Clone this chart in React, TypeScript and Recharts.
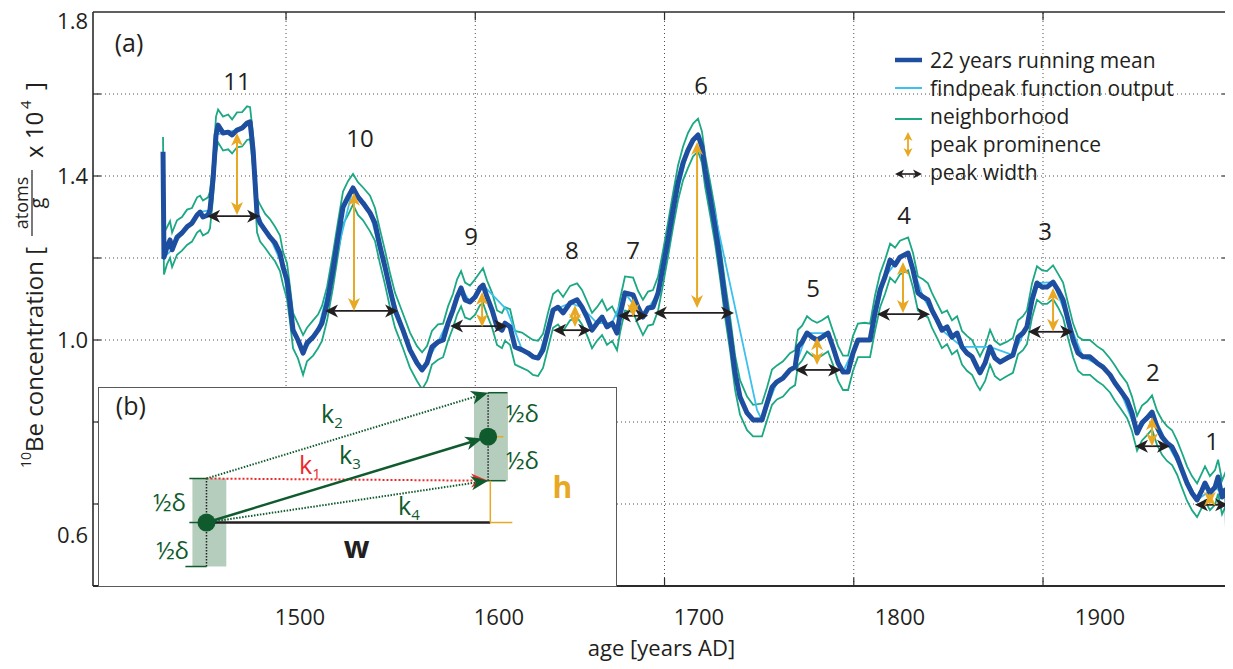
import React from 'react';
import {
  LineChart, Line, XAxis, YAxis, ReferenceLine, ReferenceDot, ReferenceArea, Legend,
} from 'recharts';

const FONT = '"Open Sans", "Noto Sans", sans-serif';
const INK = '#231f20';
const C_MEAN = '#1e4e9f';
const C_PEAK = '#3cc0ef';
const C_NEIGH = '#1ba883';
const C_PROM = '#e8a823';
const C_DKGREEN = '#0f5b2d';
const C_RED = '#ec2a2c';
const C_BOX = '#b5cdbd';
const C_AXIS = '#2b2b2b';
const C_GRID = '#4d4d4d';

// ---- 22 years running mean ----
const years = [
  1435.0, 1435.5, 1437.1, 1438.7, 1439.8, 1442.4, 1445.0, 1447.7, 1450.3, 1453.0,
  1454.6, 1456.1, 1458.8, 1459.8, 1461.4, 1463.0, 1464.1, 1466.7, 1469.4, 1471.5,
  1474.1, 1476.8, 1479.4, 1481.0, 1482.6, 1484.7, 1486.3, 1488.9, 1491.5, 1494.2,
  1496.8, 1498.4, 1500.5, 1502.1, 1503.7, 1506.3, 1509.0, 1511.1, 1514.3, 1516.9,
  1519.0, 1521.7, 1524.8, 1527.5, 1530.1, 1532.8, 1535.4, 1538.0, 1540.7, 1544.4,
  1547.0, 1549.7, 1552.3, 1555.0, 1557.6, 1561.8, 1565.5, 1569.2, 1571.9, 1574.5,
  1577.1, 1580.3, 1583.0, 1585.6, 1588.2, 1590.4, 1592.5, 1594.6, 1597.2, 1599.9,
  1602.5, 1604.1, 1606.2, 1608.9, 1611.5, 1614.1, 1615.7, 1618.4, 1621.0, 1624.7,
  1627.9, 1630.5, 1633.2, 1635.8, 1638.4, 1641.1, 1643.7, 1646.4, 1650.1, 1653.8,
  1656.4, 1659.0, 1661.7, 1664.3, 1667.0, 1669.6, 1672.3, 1674.9, 1676.5, 1679.1,
  1683.4, 1686.0, 1688.6, 1691.3, 1693.9, 1696.6, 1699.2, 1701.8, 1704.5, 1707.1,
  1709.8, 1712.4, 1715.1, 1717.7, 1719.8, 1721.4, 1724.0, 1726.7, 1729.3, 1732.0,
  1734.6, 1737.3, 1739.9, 1743.6, 1746.8, 1751.5, 1754.2, 1756.8, 1759.4, 1762.6,
  1766.3, 1769.0, 1770.5, 1772.7, 1775.3, 1777.9, 1780.6, 1783.2, 1786.4, 1789.0,
  1791.7, 1794.3, 1797.0, 1799.6, 1802.2, 1805.9, 1808.6, 1811.2, 1813.9, 1816.5,
  1819.2, 1821.8, 1824.4, 1828.7, 1831.3, 1833.9, 1836.6, 1839.2, 1841.3, 1844.0,
  1846.6, 1849.3, 1851.9, 1854.6, 1857.2, 1859.8, 1862.5, 1865.1, 1866.7, 1869.4,
  1872.0, 1874.6, 1877.3, 1881.0, 1884.1, 1886.8, 1889.4, 1891.5, 1894.2, 1896.8,
  1899.5, 1902.1, 1905.3, 1907.9, 1910.6, 1913.2, 1915.9, 1918.5, 1921.1, 1924.8,
  1928.5, 1931.7, 1935.4, 1938.0, 1940.7, 1944.4, 1947.0, 1949.7, 1952.3, 1955.0,
  1957.6, 1960.2, 1962.9, 1965.5, 1968.2, 1970.8, 1973.4, 1976.1, 1978.7, 1981.4,
  1984.0, 1985.6, 1988.2, 1990.9, 1992.5, 1994.6, 1996.2, 1997.2, 1997.8,
];

const meanConc = [
  1.459, 1.202, 1.227, 1.244, 1.220, 1.251, 1.261, 1.276, 1.285, 1.305,
  1.312, 1.300, 1.305, 1.317, 1.390, 1.500, 1.524, 1.505, 1.507, 1.500,
  1.512, 1.517, 1.529, 1.532, 1.463, 1.305, 1.285, 1.268, 1.251, 1.237,
  1.212, 1.178, 1.146, 1.090, 1.024, 1.000, 0.968, 0.993, 1.007, 1.024,
  1.041, 1.090, 1.171, 1.251, 1.324, 1.349, 1.371, 1.349, 1.334, 1.310,
  1.285, 1.227, 1.178, 1.122, 1.073, 1.024, 0.976, 0.944, 0.927, 0.944,
  0.983, 0.995, 1.000, 1.041, 1.073, 1.105, 1.127, 1.098, 1.093, 1.105,
  1.127, 1.134, 1.105, 1.073, 1.032, 1.024, 1.041, 1.032, 0.983, 0.976,
  0.968, 0.959, 0.956, 0.976, 1.024, 1.073, 1.080, 1.066, 1.090, 1.098,
  1.080, 1.056, 1.024, 1.041, 1.056, 1.032, 1.041, 1.017, 1.061, 1.115,
  1.110, 1.080, 1.056, 1.078, 1.080, 1.115, 1.178, 1.244, 1.317, 1.383,
  1.432, 1.463, 1.488, 1.500, 1.471, 1.415, 1.349, 1.276, 1.195, 1.098,
  1.017, 0.920, 0.861, 0.822, 0.805, 0.805, 0.846, 0.885, 0.898, 0.907,
  0.927, 0.934, 0.983, 0.995, 1.017, 1.007, 1.000, 1.007, 1.017, 0.983,
  0.944, 0.922, 0.922, 0.968, 1.000, 1.000, 1.000, 1.066, 1.122, 1.154,
  1.195, 1.183, 1.202, 1.212, 1.171, 1.115, 1.105, 1.098, 1.073, 1.049,
  1.024, 1.032, 1.007, 1.017, 0.983, 0.968, 0.959, 0.934, 0.920, 0.944,
  0.983, 0.956, 0.946, 0.956, 0.963, 1.007, 1.017, 1.032, 1.098, 1.139,
  1.129, 1.129, 1.141, 1.122, 1.098, 1.049, 1.000, 0.968, 0.959, 0.959,
  0.944, 0.934, 0.915, 0.895, 0.878, 0.854, 0.822, 0.773, 0.798, 0.810,
  0.824, 0.788, 0.763, 0.749, 0.739, 0.715, 0.683, 0.651, 0.627, 0.610,
  0.634, 0.651, 0.627, 0.641, 0.666, 0.617, 0.634, 0.617, 0.456,
];

// neighborhood, upper and lower envelope
const upperConc = [
  1.495, 1.262, 1.275, 1.290, 1.262, 1.292, 1.300, 1.318, 1.322, 1.348,
  1.352, 1.340, 1.348, 1.362, 1.430, 1.545, 1.562, 1.545, 1.550, 1.538,
  1.555, 1.556, 1.570, 1.568, 1.500, 1.345, 1.330, 1.308, 1.295, 1.276,
  1.255, 1.215, 1.188, 1.130, 1.066, 1.040, 1.012, 1.030, 1.048, 1.062,
  1.083, 1.130, 1.212, 1.290, 1.362, 1.388, 1.405, 1.385, 1.372, 1.352,
  1.322, 1.268, 1.218, 1.162, 1.115, 1.064, 1.018, 0.985, 0.970, 0.985,
  1.022, 1.038, 1.040, 1.082, 1.112, 1.148, 1.168, 1.140, 1.133, 1.148,
  1.165, 1.175, 1.145, 1.115, 1.072, 1.066, 1.080, 1.075, 1.022, 1.018,
  1.008, 1.000, 0.998, 1.015, 1.066, 1.112, 1.122, 1.105, 1.132, 1.138,
  1.122, 1.095, 1.066, 1.080, 1.098, 1.072, 1.082, 1.058, 1.100, 1.155,
  1.152, 1.120, 1.098, 1.118, 1.122, 1.155, 1.218, 1.285, 1.358, 1.425,
  1.472, 1.505, 1.528, 1.540, 1.508, 1.452, 1.388, 1.318, 1.235, 1.140,
  1.058, 0.962, 0.902, 0.862, 0.842, 0.845, 0.885, 0.928, 0.938, 0.948,
  0.968, 0.975, 1.025, 1.035, 1.058, 1.048, 1.042, 1.048, 1.058, 1.022,
  0.985, 0.962, 0.962, 1.010, 1.040, 1.042, 1.040, 1.108, 1.162, 1.195,
  1.235, 1.225, 1.242, 1.250, 1.212, 1.155, 1.148, 1.138, 1.115, 1.090,
  1.066, 1.072, 1.048, 1.058, 1.022, 1.010, 1.000, 0.975, 0.960, 0.985,
  1.025, 0.998, 0.988, 0.996, 1.005, 1.048, 1.058, 1.072, 1.138, 1.180,
  1.170, 1.168, 1.182, 1.162, 1.140, 1.090, 1.040, 1.008, 1.000, 1.000,
  0.985, 0.975, 0.955, 0.938, 0.918, 0.895, 0.862, 0.815, 0.840, 0.850,
  0.865, 0.828, 0.805, 0.790, 0.780, 0.755, 0.725, 0.692, 0.668, 0.650,
  0.676, 0.692, 0.668, 0.683, 0.708, 0.657, 0.675, 0.658, 0.475,
];

const lowerConc = [
  1.420, 1.160, 1.185, 1.200, 1.178, 1.208, 1.218, 1.232, 1.240, 1.262,
  1.268, 1.255, 1.262, 1.272, 1.345, 1.455, 1.482, 1.462, 1.465, 1.455,
  1.470, 1.472, 1.488, 1.490, 1.420, 1.262, 1.240, 1.225, 1.208, 1.192,
  1.168, 1.135, 1.100, 1.045, 0.980, 0.955, 0.915, 0.948, 0.962, 0.980,
  0.998, 1.048, 1.128, 1.208, 1.282, 1.305, 1.330, 1.305, 1.292, 1.265,
  1.242, 1.185, 1.135, 1.078, 1.030, 0.980, 0.932, 0.900, 0.880, 0.900,
  0.940, 0.952, 0.958, 0.998, 1.030, 1.062, 1.082, 1.055, 1.050, 1.062,
  1.085, 1.090, 1.062, 1.030, 0.988, 0.980, 0.998, 0.988, 0.940, 0.932,
  0.925, 0.915, 0.912, 0.932, 0.980, 1.030, 1.038, 1.022, 1.048, 1.055,
  1.038, 1.012, 0.980, 0.998, 1.012, 0.988, 0.998, 0.975, 1.018, 1.072,
  1.068, 1.038, 1.012, 1.035, 1.038, 1.072, 1.135, 1.202, 1.275, 1.340,
  1.390, 1.420, 1.448, 1.460, 1.432, 1.375, 1.308, 1.235, 1.152, 1.055,
  0.975, 0.878, 0.818, 0.780, 0.765, 0.765, 0.805, 0.842, 0.855, 0.862,
  0.882, 0.890, 0.938, 0.950, 0.972, 0.962, 0.955, 0.962, 0.972, 0.940,
  0.900, 0.878, 0.878, 0.925, 0.958, 0.958, 0.958, 1.022, 1.080, 1.112,
  1.152, 1.140, 1.160, 1.170, 1.128, 1.072, 1.062, 1.055, 1.030, 1.005,
  0.980, 0.990, 0.965, 0.975, 0.940, 0.925, 0.915, 0.890, 0.878, 0.900,
  0.940, 0.912, 0.902, 0.912, 0.920, 0.965, 0.975, 0.990, 1.055, 1.098,
  1.088, 1.088, 1.100, 1.080, 1.055, 1.005, 0.958, 0.925, 0.915, 0.915,
  0.900, 0.890, 0.872, 0.852, 0.835, 0.810, 0.778, 0.730, 0.755, 0.768,
  0.782, 0.745, 0.720, 0.705, 0.695, 0.672, 0.640, 0.608, 0.585, 0.568,
  0.592, 0.608, 0.585, 0.598, 0.625, 0.575, 0.592, 0.575, 0.420,
];

// findpeak function output
const fpYears = [
  1435.0, 1435.5, 1439.8, 1445.0, 1450.3, 1454.6, 1459.8, 1463.0, 1466.7, 1474.1,
  1481.0, 1484.7, 1491.5, 1498.4, 1503.7, 1509.0, 1516.9, 1524.8, 1535.4, 1544.4,
  1555.0, 1565.5, 1571.9, 1580.3, 1588.2, 1592.5, 1597.2, 1604.1, 1616.8, 1624.7,
  1633.2, 1641.1, 1650.1, 1656.4, 1664.3, 1672.3, 1679.1, 1688.6, 1696.6, 1704.5,
  1712.4, 1717.7, 1720.5, 1748.9, 1751.5, 1759.4, 1769.0, 1775.3, 1786.4, 1794.3,
  1802.2, 1808.6, 1816.5, 1824.4, 1828.7, 1836.6, 1846.6, 1857.2, 1872.0, 1884.1,
  1891.5, 1896.8, 1905.3, 1913.2, 1921.1, 1931.7, 1940.7, 1949.7, 1957.6, 1965.5,
  1973.4, 1981.4, 1990.9, 1997.2, 1997.8,
];
const fpConc = [
  1.459, 1.202, 1.220, 1.261, 1.285, 1.312, 1.317, 1.500, 1.505, 1.512,
  1.532, 1.305, 1.251, 1.178, 1.024, 0.968, 1.024, 1.171, 1.371, 1.310,
  1.122, 0.976, 0.927, 0.995, 1.073, 1.127, 1.093, 1.134, 1.073, 0.976,
  0.956, 1.073, 1.090, 1.080, 1.041, 1.041, 1.115, 1.056, 1.115, 1.317,
  1.463, 1.500, 1.440, 0.829, 0.805, 0.898, 0.934, 1.017, 1.017, 0.922,
  1.000, 1.000, 1.154, 1.202, 1.212, 1.105, 1.024, 0.983, 0.983, 0.963,
  1.032, 1.139, 1.141, 1.049, 0.959, 0.934, 0.878, 0.773, 0.824, 0.749,
  0.683, 0.610, 0.641, 0.617, 0.456,
];

// ---- detected peaks: prominence and width ----
const peakNames = ['11', '10', '9', '8', '7', '6', '5', '4', '3', '2', '1'];
const peakYear = [1474.1, 1535.9, 1603.6, 1652.7, 1683.4, 1717.2, 1780.6, 1826.0, 1905.3, 1957.6, 1988.2];
const promTop = [1.505, 1.359, 1.117, 1.085, 1.102, 1.483, 1.007, 1.190, 1.127, 0.812, 0.627];
const promBase = [1.305, 1.071, 1.032, 1.032, 1.056, 1.078, 0.939, 1.066, 1.020, 0.741, 0.598];
const widthLevel = [1.302, 1.071, 1.034, 1.024, 1.059, 1.066, 0.927, 1.063, 1.020, 0.741, 0.598];
const widthFrom = [1458.3, 1520.6, 1586.7, 1641.1, 1675.4, 1694.4, 1769.0, 1812.3, 1892.1, 1948.6, 1980.3];
const widthTo = [1486.3, 1559.2, 1616.8, 1661.2, 1691.3, 1736.7, 1793.3, 1840.3, 1915.9, 1967.1, 1997.8];
const labelYear = [1474.1, 1539.1, 1597.8, 1651.1, 1683.4, 1719.3, 1778.5, 1826.6, 1901.1, 1958.1, 1989.3];
const labelConc = [1.634, 1.493, 1.256, 1.220, 1.220, 1.622, 1.127, 1.305, 1.268, 0.922, 0.756];

// ---- axes ----
const X_DOMAIN = [1398, 1998.8];
const Y_DOMAIN = [0.4, 1.8];
const X_TICKS = [1500, 1600, 1700, 1800, 1900];
const Y_TICKS = [0.6, 0.8, 1.0, 1.2, 1.4, 1.6];
const Y_LABELED = [0.6, 1.0, 1.4, 1.8];
// the printed year labels sit a little right of their tick marks in the original
const xLabelText = ['1500', '1600', '1700', '1800', '1900'];
const xLabelYear = [1507.4, 1612.5, 1718.2, 1824.4, 1930.1];
const xLabelConc = 0.327;
const TICK_DX = 4.2;   // inward tick length, years
const TICK_DY = 0.02;  // inward tick length, concentration

const legendLabels = [
  '22 years running mean',
  'findpeak function output',
  'neighborhood',
  'peak prominence',
  'peak width',
];

// ---- inset (b) schematic, in units of half delta ----
const schemU = [0, 6.4];
const schemV = [0, 1.95];
const HALF = 1;

const meanData = years.map((year, i) => ({ year, conc: meanConc[i] }));
const upperData = years.map((year, i) => ({ year, conc: upperConc[i] }));
const lowerData = years.map((year, i) => ({ year, conc: lowerConc[i] }));
const fpData = fpYears.map((year, i) => ({ year, conc: fpConc[i] }));
const schemData = schemU.map((u, i) => ({ u, v: schemV[i] }));

function head(x: number, y: number, ux: number, uy: number, len: number, half: number, fill: string) {
  const bx = x - ux * len, by = y - uy * len;
  const nx = x - ux * len * 0.72, ny = y - uy * len * 0.72;
  const px = -uy * half, py = ux * half;
  return (
    <polygon
      points={`${x},${y} ${bx + px},${by + py} ${nx},${ny} ${bx - px},${by - py}`}
      fill={fill}
    />
  );
}

interface ArrowStyle {
  color: string; width: number; dash?: string;
  start?: boolean; end?: boolean; len?: number; half?: number;
}

function arrow(s: ArrowStyle) {
  const len = s.len ?? 12;
  const half = s.half ?? 5.5;
  return (p: any) => {
    const x1 = Number(p.x1), y1 = Number(p.y1), x2 = Number(p.x2), y2 = Number(p.y2);
    const d = Math.hypot(x2 - x1, y2 - y1) || 1;
    const ux = (x2 - x1) / d, uy = (y2 - y1) / d;
    const cut = len * 0.7;
    const sx = s.start ? x1 + ux * cut : x1;
    const sy = s.start ? y1 + uy * cut : y1;
    const ex = s.end ? x2 - ux * cut : x2;
    const ey = s.end ? y2 - uy * cut : y2;
    const drawLine = d > (s.start ? cut : 0) + (s.end ? cut : 0);
    return (
      <g>
        {drawLine && (
          <line x1={sx} y1={sy} x2={ex} y2={ey} stroke={s.color}
            strokeWidth={s.width} strokeDasharray={s.dash} />
        )}
        {s.end && head(x2, y2, ux, uy, len, half, s.color)}
        {s.start && head(x1, y1, -ux, -uy, len, half, s.color)}
      </g>
    );
  };
}

const promArrow = arrow({ color: C_PROM, width: 2, start: true, end: true, len: 13, half: 6 });
const widthArrow = arrow({ color: INK, width: 1.8, start: true, end: true, len: 13, half: 6.5 });

function textShape(label: React.ReactNode, size: number, color = INK, weight = 400) {
  return (p: any) => (
    <text x={p.cx} y={p.cy} textAnchor="middle" dominantBaseline="central"
      fontSize={size} fontFamily={FONT} fill={color} fontWeight={weight}>
      {label}
    </text>
  );
}

function kLabel(sub: string, color: string) {
  return (p: any) => (
    <text x={p.cx} y={p.cy} dominantBaseline="central" textAnchor="middle"
      fontFamily={FONT} fill={color}>
      <tspan fontSize={25}>k</tspan>
      <tspan fontSize={15} dy={9}>{sub}</tspan>
    </text>
  );
}

const yTick = (p: any) => {
  const v = p.payload?.value;
  if (!Y_LABELED.includes(v)) return <g />;
  const shift = v === 0.6 ? 31 : v === 1.8 ? 9 : 0;
  return (
    <text x={p.x} y={p.y + shift} dy="0.36em" textAnchor="end" fontSize={22}
      fontFamily={FONT} fill={INK}>
      {Number(v).toFixed(1)}
    </text>
  );
};

const yTitle = (props: any) => {
  const vb = props.viewBox || { x: 0, y: 4 };
  const ox = (vb.x ?? 0) + 35;
  const oy = (vb.y ?? 4) + 456;
  return (
    <g transform={`translate(${ox},${oy}) rotate(-90)`} fontFamily={FONT} fill={INK}>
      <text x={0} y={-12} fontSize={14}>10</text>
      <text x={16} y={0} fontSize={24}>Be concentration [</text>
      <text x={265} y={-15} fontSize={18} textAnchor="middle">atoms</text>
      <line x1={232} y1={-11} x2={298} y2={-11} stroke={INK} strokeWidth={1.2} />
      <text x={265} y={1} fontSize={20} textAnchor="middle">g</text>
      <text x={310} y={0} fontSize={24}>x 10</text>
      <text x={359} y={-12} fontSize={15}>4</text>
      <text x={378} y={0} fontSize={24}>]</text>
    </g>
  );
};

function legendIcon(i: number) {
  if (i === 0) return <line x1={2} y1={14} x2={29} y2={14} stroke={C_MEAN} strokeWidth={4.5} />;
  if (i === 1) return <line x1={2} y1={14} x2={29} y2={14} stroke={C_PEAK} strokeWidth={2} />;
  if (i === 2) return <line x1={2} y1={17} x2={29} y2={17} stroke={C_NEIGH} strokeWidth={2} />;
  if (i === 3) {
    return (
      <g>
        <line x1={15} y1={8} x2={15} y2={21} stroke={C_PROM} strokeWidth={1.8} />
        {head(15, 2, 0, -1, 9, 4.5, C_PROM)}
        {head(15, 27, 0, 1, 9, 4.5, C_PROM)}
      </g>
    );
  }
  return (
    <g>
      <line x1={8} y1={16} x2={23} y2={16} stroke={INK} strokeWidth={1.6} />
      {head(2, 16, -1, 0, 9, 4.5, INK)}
      {head(29, 16, 1, 0, 9, 4.5, INK)}
    </g>
  );
}

const renderLegend = () => (
  <div style={{ fontFamily: FONT, fontSize: 21, color: INK, lineHeight: '28px' }}>
    {legendLabels.map((label, i) => (
      <div key={label} style={{ display: 'flex', alignItems: 'center', height: 28 }}>
        <svg width={37} height={28} style={{ flex: 'none' }}>{legendIcon(i)}</svg>
        <span style={{ whiteSpace: 'nowrap' }}>{label}</span>
      </div>
    ))}
  </div>
);

function Inset() {
  const green = { stroke: C_DKGREEN, strokeWidth: 1.5 };
  const seg = (a: [number, number], b: [number, number]) => [{ x: a[0], y: a[1] }, { x: b[0], y: b[1] }];
  const [uL, uR] = schemU;
  const [vL, vR] = schemV;
  return (
    <div style={{
      position: 'absolute', left: 90, top: 379, width: 519, height: 200,
      boxSizing: 'border-box', border: '1.5px solid #5a5a5a', background: '#fff',
    }}>
      <LineChart width={516} height={197} data={schemData} margin={{ top: 0, right: 0, bottom: 0, left: 0 }}>
        <XAxis dataKey="u" type="number" domain={[-2.443, 9.284]} allowDataOverflow hide />
        <YAxis type="number" domain={[-1.42, 3.057]} allowDataOverflow hide />
        <ReferenceArea x1={uL - 0.32} x2={uL + 0.45} y1={vL - HALF} y2={vL + HALF}
          fill={C_BOX} fillOpacity={1} stroke="none" ifOverflow="visible" />
        <ReferenceArea x1={uR - 0.32} x2={uR + 0.45} y1={vR - HALF} y2={vR + HALF}
          fill={C_BOX} fillOpacity={1} stroke="none" ifOverflow="visible" />
        <ReferenceLine segment={seg([uL, vL - HALF], [uL, vL + HALF])} stroke="#222"
          strokeWidth={1.5} strokeDasharray="1.5 1.5" ifOverflow="visible" />
        <ReferenceLine segment={seg([uR, vR - HALF], [uR, vR + HALF])} stroke="#222"
          strokeWidth={1.5} strokeDasharray="1.5 1.5" ifOverflow="visible" />
        <ReferenceLine segment={seg([uL - 0.39, vL + HALF], [uL, vL + HALF])} {...green} ifOverflow="visible" />
        <ReferenceLine segment={seg([uL - 0.39, vL], [uL + 0.23, vL])} {...green} ifOverflow="visible" />
        <ReferenceLine segment={seg([uL - 0.48, vL - HALF], [uL, vL - HALF])} {...green} ifOverflow="visible" />
        <ReferenceLine segment={seg([uR, vR + HALF], [uR + 0.44, vR + HALF])} {...green} ifOverflow="visible" />
        <ReferenceLine segment={seg([uR - 0.3, vR - HALF], [uR + 0.4, vR - HALF])} {...green} ifOverflow="visible" />
        <ReferenceLine segment={seg([uR, vR], [uR + 0.35, vR])} stroke={C_PROM} strokeWidth={1.5} ifOverflow="visible" />
        {/* w and h */}
        <ReferenceLine segment={seg([uL, vL], [uR + 0.05, vL])} stroke={INK} strokeWidth={2.5} ifOverflow="visible" />
        <ReferenceLine segment={seg([uR + 0.05, vL], [uR + 0.05, vR - HALF])} stroke={C_PROM} strokeWidth={1.5} ifOverflow="visible" />
        <ReferenceLine segment={seg([uR + 0.05, vL], [uR + 0.55, vL])} stroke={C_PROM} strokeWidth={1.5} ifOverflow="visible" />
        {/* slopes k1..k4 */}
        <ReferenceLine segment={seg([uL, vL + HALF], [uR, vR - HALF])} ifOverflow="visible"
          shape={arrow({ color: C_RED, width: 2, dash: '2 2', end: true, len: 17, half: 7 })} />
        <ReferenceLine segment={seg([uL, vL + HALF], [uR, vR + HALF])} ifOverflow="visible"
          shape={arrow({ color: C_DKGREEN, width: 2, dash: '1.5 1.5', end: true, len: 17, half: 7 })} />
        <ReferenceLine segment={seg([uL, vL], [uR - 0.13, vR - 0.04])} ifOverflow="visible"
          shape={arrow({ color: C_DKGREEN, width: 2.5, end: true, len: 17, half: 7 })} />
        <ReferenceLine segment={seg([uL, vL], [uR, vR - HALF])} ifOverflow="visible"
          shape={arrow({ color: C_DKGREEN, width: 2, dash: '1.5 1.5', end: true, len: 17, half: 7 })} />
        <Line dataKey="v" stroke="none" isAnimationActive={false} activeDot={false}
          dot={{ r: 9, fill: C_DKGREEN, stroke: 'none' }} />
        <ReferenceDot x={-1.72} y={2.66} r={1} ifOverflow="visible" shape={textShape('(b)', 25)} />
        <ReferenceDot x={2.85} y={2.5} r={1} ifOverflow="visible" shape={kLabel('2', C_DKGREEN)} />
        <ReferenceDot x={2.35} y={1.32} r={1} ifOverflow="visible" shape={kLabel('1', C_RED)} />
        <ReferenceDot x={3.26} y={1.56} r={1} ifOverflow="visible" shape={kLabel('3', C_DKGREEN)} />
        <ReferenceDot x={4.6} y={0.4} r={1} ifOverflow="visible" shape={kLabel('4', C_DKGREEN)} />
        <ReferenceDot x={-0.84} y={0.48} r={1} ifOverflow="visible" shape={textShape('½δ', 24, C_DKGREEN)} />
        <ReferenceDot x={-0.77} y={-0.61} r={1} ifOverflow="visible" shape={textShape('½δ', 24, C_DKGREEN)} />
        <ReferenceDot x={7.18} y={2.5} r={1} ifOverflow="visible" shape={textShape('½δ', 24, C_DKGREEN)} />
        <ReferenceDot x={7.18} y={1.43} r={1} ifOverflow="visible" shape={textShape('½δ', 24, C_DKGREEN)} />
        <ReferenceDot x={3.41} y={-0.55} r={1} ifOverflow="visible" shape={textShape('w', 30, INK, 700)} />
        <ReferenceDot x={8.09} y={0.82} r={1} ifOverflow="visible" shape={textShape('h', 30, C_PROM, 700)} />
      </LineChart>
    </div>
  );
}

export default function App() {
  const ax = { xAxisId: 'main', yAxisId: 'left', ifOverflow: 'visible' as const };
  const [x0, x1] = X_DOMAIN;
  const [y0, y1] = Y_DOMAIN;
  return (
    <div style={{ position: 'relative', width: 1225, height: 661, fontFamily: FONT }}>
      <LineChart width={1225} height={661} margin={{ top: 4, right: 3, bottom: 0, left: 0 }}
        style={{ overflow: 'visible' }}>
        <XAxis xAxisId="main" dataKey="year" type="number" domain={X_DOMAIN} allowDataOverflow
          ticks={X_TICKS} interval={0} tick={false} tickLine={false} axisLine={false} height={83}
          label={{ value: 'age [years AD]', position: 'insideTop', offset: 54, fill: INK, fontSize: 22, fontFamily: FONT }} />
        <YAxis yAxisId="left" type="number" domain={Y_DOMAIN} allowDataOverflow
          ticks={[0.4, ...Y_TICKS, 1.8]} interval={0} width={85} tickSize={0} tickMargin={5}
          tick={yTick} tickLine={false} axisLine={false} label={{ content: yTitle }} />

        {/* dotted grid */}
        {X_TICKS.map((t) => (
          <ReferenceLine key={`gx${t}`} {...ax} x={t} stroke={C_GRID} strokeDasharray="1 3" />
        ))}
        {Y_TICKS.map((t) => (
          <ReferenceLine key={`gy${t}`} {...ax} y={t} stroke={C_GRID} strokeDasharray="1 3" />
        ))}

        <Line xAxisId="main" yAxisId="left" data={upperData} dataKey="conc" type="linear"
          stroke={C_NEIGH} strokeWidth={1.8} dot={false} activeDot={false} isAnimationActive={false} />
        <Line xAxisId="main" yAxisId="left" data={lowerData} dataKey="conc" type="linear"
          stroke={C_NEIGH} strokeWidth={1.8} dot={false} activeDot={false} isAnimationActive={false} />
        <Line xAxisId="main" yAxisId="left" data={fpData} dataKey="conc" type="linear"
          stroke={C_PEAK} strokeWidth={1.8} dot={false} activeDot={false} isAnimationActive={false} />
        <Line xAxisId="main" yAxisId="left" data={meanData} dataKey="conc" type="linear"
          stroke={C_MEAN} strokeWidth={5} strokeLinejoin="round" dot={false} activeDot={false}
          isAnimationActive={false} />

        {/* box with inward ticks */}
        <ReferenceLine {...ax} x={x0} stroke={C_AXIS} strokeWidth={1.6} />
        <ReferenceLine {...ax} x={x1} stroke={C_AXIS} strokeWidth={1.4} />
        <ReferenceLine {...ax} y={y0} stroke={C_AXIS} strokeWidth={1.8} />
        <ReferenceLine {...ax} y={y1} stroke={C_AXIS} strokeWidth={1.4} />
        {X_TICKS.map((t) => (
          <ReferenceLine key={`tb${t}`} {...ax} stroke={C_AXIS} strokeWidth={1.2}
            segment={[{ x: t, y: y0 }, { x: t, y: y0 + TICK_DY }]} />
        ))}
        {X_TICKS.map((t) => (
          <ReferenceLine key={`tt${t}`} {...ax} stroke={C_AXIS} strokeWidth={1.2}
            segment={[{ x: t, y: y1 }, { x: t, y: y1 - TICK_DY }]} />
        ))}
        {Y_TICKS.map((t) => (
          <ReferenceLine key={`tl${t}`} {...ax} stroke={C_AXIS} strokeWidth={1.2}
            segment={[{ x: x0, y: t }, { x: x0 + TICK_DX, y: t }]} />
        ))}
        {Y_TICKS.map((t) => (
          <ReferenceLine key={`tr${t}`} {...ax} stroke={C_AXIS} strokeWidth={1.2}
            segment={[{ x: x1, y: t }, { x: x1 - TICK_DX, y: t }]} />
        ))}
        {xLabelText.map((s, i) => (
          <ReferenceDot key={`xl${s}`} {...ax} x={xLabelYear[i]} y={xLabelConc} r={1}
            shape={textShape(s, 22)} />
        ))}

        {/* peak width and prominence */}
        {peakNames.map((name, i) => (
          <ReferenceLine key={`w${name}`} {...ax}
            segment={[{ x: widthFrom[i], y: widthLevel[i] }, { x: widthTo[i], y: widthLevel[i] }]}
            shape={widthArrow} />
        ))}
        {peakNames.map((name, i) => (
          <ReferenceLine key={`p${name}`} {...ax}
            segment={[{ x: peakYear[i], y: promBase[i] }, { x: peakYear[i], y: promTop[i] }]}
            shape={promArrow} />
        ))}
        {peakNames.map((name, i) => (
          <ReferenceDot key={`l${name}`} {...ax} x={labelYear[i]} y={labelConc[i]} r={1}
            shape={textShape(name, 24)} />
        ))}
        <ReferenceDot {...ax} x={1417} y={1.727} r={1} shape={textShape('(a)', 25)} />

        <Legend layout="horizontal" verticalAlign="middle" align="center" content={renderLegend}
          wrapperStyle={{ top: 38, left: 885, width: 335 }} />
      </LineChart>
      <Inset />
    </div>
  );
}
